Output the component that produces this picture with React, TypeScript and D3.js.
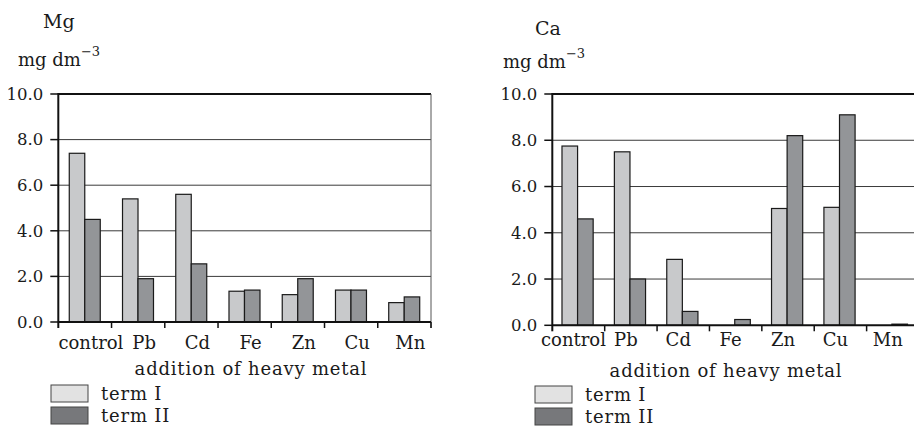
import React from 'react';
import * as d3 from 'd3';

// values (mg dm^-3)
const metals = ['control', 'Pb', 'Cd', 'Fe', 'Zn', 'Cu', 'Mn'];
const mgTermI = [7.4, 5.4, 5.6, 1.35, 1.2, 1.4, 0.85];
const mgTermII = [4.5, 1.9, 2.55, 1.4, 1.9, 1.4, 1.1];
const caTermI = [7.75, 7.5, 2.85, 0, 5.05, 5.1, 0];
const caTermII = [4.6, 2.0, 0.6, 0.25, 8.2, 9.1, 0.05];
const yTicks = [0, 2, 4, 6, 8, 10];
const termLabels = ['term I', 'term II'];

const font = '"DejaVu Serif", serif';
const barColors = ['#c8c9cb', '#939598'];
const legendColors = ['#e2e2e2', '#77787b'];

type PanelProps = {
  title: string;
  termI: number[];
  termII: number[];
  left: number;
  right: number;
  top: number;
  bottom: number;
  inner: [number, number];
  titleX: number;
  titleY: number;
  unitX: number;
  unitY: number;
  unitSize: number;
  catDx: number;
  catY: number;
  xTitleX: number;
  xTitleY: number;
  legendX: number;
  legendY: number;
  rightBorder: boolean;
};

const Panel = (p: PanelProps) => {
  const x = d3.scaleBand<string>().domain(metals).range([p.left, p.right]).padding(0);
  const bw = x.bandwidth();
  const sub = d3.scaleBand<number>().domain([0, 1]).range([bw * p.inner[0], bw * p.inner[1]]).padding(0);
  const y = d3.scaleLinear().domain([0, 10]).range([p.bottom, p.top]);
  const series = [p.termI, p.termII];

  return (
    <g style={{ fontFamily: font }} fill="#1a1a1a">
      <text x={p.titleX} y={p.titleY} fontSize={19}>{p.title}</text>
      <text x={p.unitX} y={p.unitY} fontSize={p.unitSize}>
        mg dm<tspan dy={-10} fontSize={p.unitSize - 5}>−3</tspan>
      </text>

      {/* grid */}
      {yTicks.filter((t) => t > 0 && t < 10).map((t) => (
        <line key={t} x1={p.left} x2={p.right} y1={y(t)} y2={y(t)} stroke="#3a3a3a" strokeWidth={1} />
      ))}
      <line x1={p.left} x2={p.right} y1={y(10)} y2={y(10)} stroke="#111" strokeWidth={2.2} />
      {p.rightBorder && (
        <line x1={p.right} x2={p.right} y1={y(10)} y2={y(0) + 6} stroke="#555" strokeWidth={1} />
      )}

      {/* bars */}
      {metals.map((m, i) =>
        series.map((s, k) =>
          s[i] > 0 ? (
            <rect
              key={m + k}
              x={(x(m) as number) + (sub(k) as number)}
              y={y(s[i])}
              width={sub.bandwidth()}
              height={y(0) - y(s[i])}
              fill={barColors[k]}
              stroke="#1a1a1a"
              strokeWidth={1.2}
            />
          ) : null
        )
      )}

      {/* y axis */}
      <line x1={p.left} x2={p.left} y1={y(10) - 1} y2={y(0) + 6} stroke="#111" strokeWidth={2} />
      {yTicks.map((t) => (
        <g key={t}>
          <line x1={p.left - 8} x2={p.left} y1={y(t)} y2={y(t)} stroke="#111" strokeWidth={1.5} />
          <text x={p.left - 15} y={y(t)} dy="0.35em" textAnchor="end" fontSize={16.5}>
            {t.toFixed(1)}
          </text>
        </g>
      ))}

      {/* x axis */}
      <line x1={p.left} x2={p.right} y1={y(0)} y2={y(0)} stroke="#111" strokeWidth={2} />
      {metals.map((m) => (
        <line key={m} x1={(x(m) as number) + bw} x2={(x(m) as number) + bw} y1={y(0)} y2={y(0) + 6} stroke="#111" strokeWidth={1.5} />
      ))}
      {metals.map((m) => (
        <text key={m} x={(x(m) as number) + bw / 2 + p.catDx} y={p.catY} textAnchor="middle" fontSize={18}>
          {m}
        </text>
      ))}
      <text x={p.xTitleX} y={p.xTitleY} textAnchor="middle" fontSize={18} letterSpacing={0.8}>
        addition of heavy metal
      </text>

      {/* legend */}
      {termLabels.map((l, k) => (
        <g key={l} transform={`translate(${p.legendX},${p.legendY + k * 22})`}>
          <rect x={0} y={0} width={37} height={17} fill={legendColors[k]} stroke="#444" strokeWidth={1} />
          <text x={50} y={15} fontSize={18} letterSpacing={0.8}>{l}</text>
        </g>
      ))}
    </g>
  );
};

export default function App() {
  return (
    <svg width={914} height={428} style={{ position: 'absolute', left: 0, top: 0, background: '#fff' }}>
      <Panel
        title="Mg"
        termI={mgTermI}
        termII={mgTermII}
        left={58.3}
        right={431}
        top={94}
        bottom={322}
        inner={[0.206, 0.788]}
        titleX={43}
        titleY={28}
        unitX={18}
        unitY={66}
        unitSize={18}
        catDx={6}
        catY={349}
        xTitleX={251}
        xTitleY={375}
        legendX={51}
        legendY={385}
        rightBorder={true}
      />
      <Panel
        title="Ca"
        termI={caTermI}
        termII={caTermII}
        left={552.3}
        right={919}
        top={94}
        bottom={325.3}
        inner={[0.185, 0.78]}
        titleX={535}
        titleY={35}
        unitX={503}
        unitY={68}
        unitSize={18}
        catDx={-5}
        catY={346}
        xTitleX={726}
        xTitleY={377}
        legendX={535}
        legendY={386}
        rightBorder={false}
      />
    </svg>
  );
}
